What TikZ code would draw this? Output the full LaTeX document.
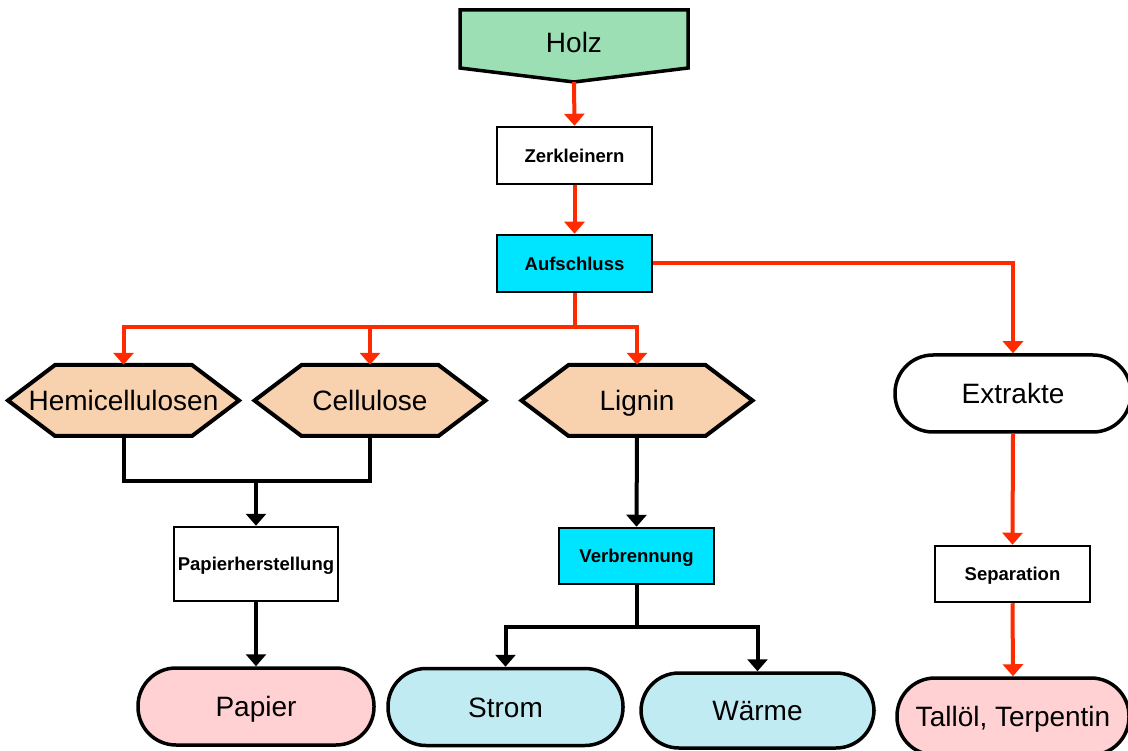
\documentclass[tikz,border=0pt]{standalone}
\usepackage{fontspec}
\setmainfont{Liberation Sans}
\usetikzlibrary{arrows.meta}
\definecolor{holzgreen}{HTML}{9CDFB4}
\definecolor{proccyan}{HTML}{00E5FF}
\definecolor{fractionpeach}{HTML}{F8D1AE}
\definecolor{productpink}{HTML}{FFD1D3}
\definecolor{energyblue}{HTML}{C1EBF3}
\definecolor{flowred}{HTML}{FF2A00}

% hexagon for a wood fraction: #1 name, #2 centre x, #3 text
\newcommand\fractionhex[3]{%
  \filldraw[hexframe] ({#2-115.5},400.5) -- ({#2-68.5},365) -- ({#2+68.5},365)
    -- ({#2+115.5},400.5) -- ({#2+68.5},436) -- ({#2-68.5},436) -- cycle;
  \node[hexlabel] (#1) at (#2,400.5) {#3};}

\begin{document}
\begin{tikzpicture}[x=1pt,y=-1pt,
  bigtext/.style={font=\fontsize{28}{32}\selectfont, text height=20.4pt, text depth=0pt},
  smalltext/.style={font=\bfseries\fontsize{18.5}{22}\selectfont, text height=13.5pt, text depth=0pt},
  procbox/.style={draw, line width=2.5pt, smalltext, inner sep=0pt,
    minimum width=155pt, minimum height=57pt},
  pill/.style={draw, line width=3.5pt, rounded corners=38pt, bigtext,
    inner sep=0pt, minimum width=235pt, minimum height=77pt},
  hexframe/.style={draw, line width=4pt, fill=fractionpeach, line join=miter},
  hexlabel/.style={bigtext, inner sep=0pt, minimum width=231pt, minimum height=71pt},
  redflow/.style={draw=flowred, line width=4pt},
  redarrow/.style={redflow, -{Triangle[width=20pt,length=12pt]}},
  blkflow/.style={draw=black, line width=4pt},
  blkarrow/.style={blkflow, -{Triangle[width=20pt,length=12pt]}},
]
\useasboundingbox (0,0) rectangle (1128,751);

% raw material
\filldraw[draw=black, line width=3.5pt, fill=holzgreen, line join=miter]
  (460,10) -- (688,10) -- (688,68) -- (574,82) -- (460,68) -- cycle;
\node[bigtext] (holz) at (574,42) {Holz};
\coordinate (holztip) at (574,82);

% processing steps
\node[procbox] (zer) at (574.5,155.5) {Zerkleinern};
\node[procbox, fill=proccyan] (auf) at (574.5,263.5) {Aufschluss};

% fractions
\fractionhex{hemi}{123.5}{Hemicellulosen}
\fractionhex{cell}{370}{Cellulose}
\fractionhex{lig}{637}{Lignin}
\node[pill, minimum width=236pt] (extr) at (1013,393.5) {Extrakte};

% further processing
\node[procbox, minimum width=164pt, minimum height=74pt] (papherst) at (256,564) {Papierherstellung};
\node[procbox, minimum height=56pt, fill=proccyan] (verb) at (636.5,556) {Verbrennung};
\node[procbox, minimum height=56pt] (sep) at (1012.5,574) {Separation};

% products
\node[pill, fill=productpink, minimum width=236pt] (papier) at (256,706.5) {Papier};
\node[pill, fill=energyblue] (strom) at (505.5,707) {Strom};
\node[pill, fill=energyblue, minimum width=233pt, minimum height=75pt] (waerme) at (757.5,710.5) {Wärme};
\node[pill, fill=productpink, minimum width=232pt] (tall) at (1013,716.5) {Tallöl, Terpentin};

% red flows
\draw[redarrow] (holztip) -- (zer.north);
\draw[redarrow] (zer.south) -- (auf.north);
\draw[redarrow] (auf.east) -| (extr.north);
\coordinate (split) at (574.5,327);
\draw[redflow] (auf.south) -- (split);
\draw[redflow] (hemi.north |- split) -- (lig.north |- split);
\draw[redarrow] (split) -| (hemi.north);
\draw[redarrow] (split) -| (cell.north);
\draw[redarrow] (split) -| (lig.north);
\draw[redarrow] (extr.south) -- (sep.north);
\draw[redarrow] (sep.south) -- (tall.north);

% black flows
\coordinate (join) at (256,481);
\draw[blkflow, line join=miter] (hemi.south) |- (cell.south |- join) -- (cell.south);
\draw[blkarrow] (join) -- (papherst.north);
\draw[blkarrow] (papherst.south) -- (papier.north);
\draw[blkarrow] (lig.south) -- (verb.north);
\coordinate (fork) at (636.5,627);
\draw[blkflow] (verb.south) -- (fork);
\draw[blkflow] (strom.north |- fork) -- (waerme.north |- fork);
\draw[blkarrow] (fork) -| (strom.north);
\draw[blkarrow] (fork) -| (waerme.north);
\end{tikzpicture}
\end{document}
